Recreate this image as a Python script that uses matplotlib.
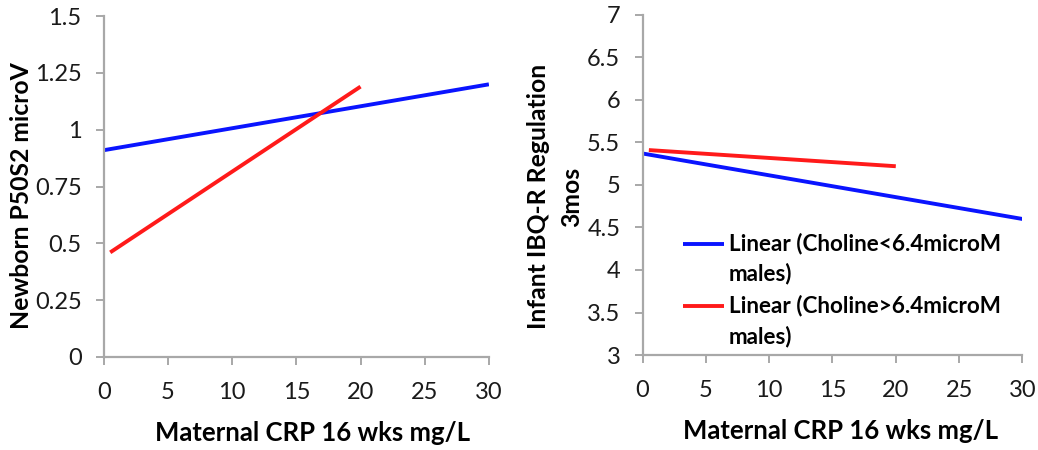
"""Two panels of linear trend lines: maternal CRP vs newborn / infant outcomes."""

import matplotlib

matplotlib.use("Agg")
import matplotlib.pyplot as plt  # noqa: E402
from matplotlib.legend_handler import HandlerLine2D  # noqa: E402

plt.rcParams["font.family"] = ["Lato", "DejaVu Sans"]

# endpoints of each fitted line (x = maternal CRP mg/L)
left_low_x = [0, 30]
left_low_y = [0.91, 1.20]
left_high_x = [0.5, 20]
left_high_y = [0.46, 1.19]

right_low_x = [0, 30]
right_low_y = [5.37, 4.60]
right_high_x = [0.5, 20]
right_high_y = [5.41, 5.22]

x_ticks = [0, 5, 10, 15, 20, 25, 30]
left_y_ticks = [0, 0.25, 0.5, 0.75, 1, 1.25, 1.5]
left_y_labels = ["0", "0.25", "0.5", "0.75", "1", "1.25", "1.5"]
right_y_ticks = [3, 3.5, 4, 4.5, 5, 5.5, 6, 6.5, 7]
right_y_labels = ["3", "3.5", "4", "4.5", "5", "5.5", "6", "6.5", "7"]

legend_labels = ["Linear (Choline<6.4microM\nmales)", "Linear (Choline>6.4microM\nmales)"]

BLUE = "#0a14ff"
RED = "#ff1a1a"
GRAY = "#a8a8a8"
LEGEND_SIZE = 16.2


class FirstLineHandler(HandlerLine2D):
    """Put the legend line level with the first row of a two-row label."""

    def create_artists(self, legend, orig_handle, xdescent, ydescent,
                       width, height, fontsize, trans):
        artists = super().create_artists(legend, orig_handle, xdescent, ydescent,
                                         width, height, fontsize, trans)
        for artist in artists:
            ys = artist.get_ydata()
            artist.set_ydata([y + 0.68 * fontsize for y in ys])
        return artists


def style_axes(ax, label_x):
    for side in ("top", "right"):
        ax.spines[side].set_visible(False)
    for side in ("left", "bottom"):
        ax.spines[side].set_color(GRAY)
        ax.spines[side].set_linewidth(1.6)
    ax.tick_params(direction="out", length=6, width=1.4, color=GRAY,
                   labelsize=17, labelcolor="#1a1a1a")
    ax.tick_params(axis="x", pad=12)
    ax.tick_params(axis="y", pad=10)
    ax.set_xlim(0, 30)
    ax.set_xticks(x_ticks)
    ax.set_xlabel("Maternal CRP 16 wks mg/L", fontsize=18.5, fontweight="bold", labelpad=13)
    ax.xaxis.label.set_x(label_x)


fig = plt.figure(figsize=(10.38, 4.5), dpi=100)
ax1 = fig.add_axes([0.100, 0.207, 0.371, 0.757])
ax2 = fig.add_axes([0.619, 0.211, 0.366, 0.756])

ax1.plot(left_low_x, left_low_y, color=BLUE, lw=2.8, solid_capstyle="butt")
ax1.plot(left_high_x, left_high_y, color=RED, lw=2.8, solid_capstyle="butt")
ax1.set_ylim(0, 1.5)
ax1.set_yticks(left_y_ticks)
ax1.set_yticklabels(left_y_labels)
style_axes(ax1, 0.543)
ax1.set_ylabel("Newborn P50S2 microV", fontsize=17.8, fontweight="bold", labelpad=1)
ax1.yaxis.label.set_y(0.474)

ax2.plot(right_low_x, right_low_y, color=BLUE, lw=2.8, solid_capstyle="butt",
         label=legend_labels[0])
ax2.plot(right_high_x, right_high_y, color=RED, lw=2.8, solid_capstyle="butt",
         label=legend_labels[1])
ax2.set_ylim(3, 7)
ax2.set_yticks(right_y_ticks)
ax2.set_yticklabels(right_y_labels)
style_axes(ax2, 0.52)
ax2.set_ylabel("Infant IBQ-R Regulation\n3mos", fontsize=17.8, fontweight="bold",
               labelpad=3, linespacing=1.5)
ax2.yaxis.label.set_y(0.465)
leg = ax2.legend(loc="upper left", bbox_to_anchor=(0.052, 0.42), frameon=False,
                 handlelength=1.85, handletextpad=0.2, labelspacing=0.45,
                 handler_map={matplotlib.lines.Line2D: FirstLineHandler()},
                 prop={"size": LEGEND_SIZE, "weight": "bold"})
for text in leg.get_texts():
    text.set_linespacing(1.5)

fig.savefig("out.png", dpi=100)
